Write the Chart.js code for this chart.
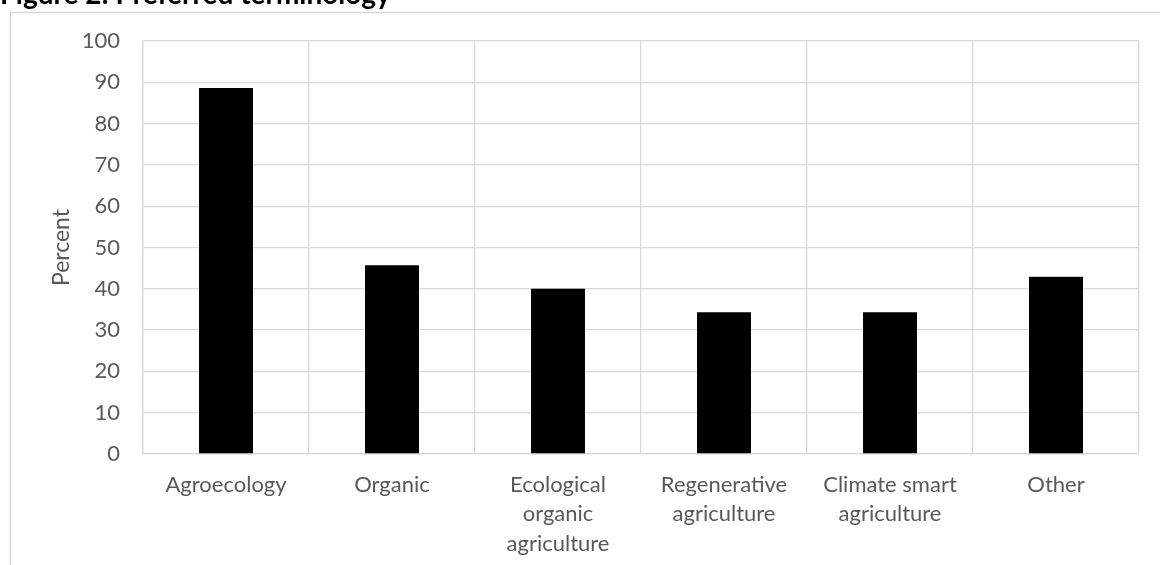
<!DOCTYPE html>
<html>
<head>
<meta charset="utf-8">
<script src="https://cdn.jsdelivr.net/npm/chart.js@4.4.1/dist/chart.umd.min.js"></script>
<style>
  html, body { margin: 0; padding: 0; background: #ffffff; overflow: hidden; }
  #wrap { position: absolute; left: 0; top: 0; width: 1160px; height: 565px; }
</style>
</head>
<body>
<div id="wrap"><canvas id="chart" width="1160" height="565"></canvas></div>
<script>
// Survey answers: share of respondents preferring each term
const categories = [
  ["Agroecology"],
  ["Organic"],
  ["Ecological", "organic", "agriculture"],
  ["Regenerative", "agriculture"],
  ["Climate smart", "agriculture"],
  ["Other"]
];
const percentValues = [88.6, 45.7, 40.0, 34.3, 34.3, 42.9];
const yTickRange = [0, 100];
const yTickStep = 10;
const figureTitle = "Figure 2: Preferred terminology";
const yAxisTitle = "Percent";

const FONT = "Lato, 'Open Sans', 'Liberation Sans', sans-serif";
const GRID = "#d9d9d9";
const TEXT = "#595959";

// Outer frame and the figure caption above it
const framePlugin = {
  id: "frame",
  beforeDraw(chart) {
    const ctx = chart.ctx;
    ctx.save();
    ctx.fillStyle = "#ffffff";
    ctx.fillRect(0, 0, chart.width, chart.height);
    ctx.strokeStyle = GRID;
    ctx.lineWidth = 1.3;
    ctx.beginPath();
    ctx.moveTo(10, 12.5);
    ctx.lineTo(chart.width, 12.5);
    ctx.moveTo(10.5, 12);
    ctx.lineTo(10.5, chart.height);
    ctx.stroke();
    ctx.fillStyle = "#000000";
    ctx.font = "bold 28px " + FONT;
    ctx.textBaseline = "alphabetic";
    ctx.textAlign = "left";
    ctx.fillText(figureTitle, 0, 4);
    ctx.restore();
  }
};

new Chart(document.getElementById("chart"), {
  type: "bar",
  data: {
    labels: categories,
    datasets: [{
      data: percentValues,
      backgroundColor: "#000000",
      borderWidth: 0,
      categoryPercentage: 1.0,
      barPercentage: 0.325
    }]
  },
  plugins: [framePlugin],
  options: {
    responsive: false,
    animation: false,
    devicePixelRatio: 1,
    layout: { padding: { top: 41, right: 21, left: 0, bottom: 0 } },
    plugins: {
      legend: { display: false },
      tooltip: { enabled: false },
      title: { display: false }
    },
    scales: {
      x: {
        grid: { color: GRID, lineWidth: 1.3, drawTicks: false, offset: true },
        border: { color: GRID, width: 1.3 },
        ticks: {
          color: TEXT,
          font: { family: FONT, size: 22, lineHeight: 1.34 },
          padding: 16,
          maxRotation: 0,
          minRotation: 0,
          autoSkip: false
        },
        afterFit(scale) { scale.height = 111; }
      },
      y: {
        min: yTickRange[0],
        max: yTickRange[1],
        grid: { color: GRID, lineWidth: 1.3, drawTicks: false },
        border: { color: GRID, width: 1.3 },
        ticks: {
          stepSize: yTickStep,
          color: TEXT,
          font: { family: FONT, size: 22 },
          padding: 23
        },
        title: {
          display: true,
          text: yAxisTitle,
          color: TEXT,
          font: { family: FONT, size: 23, lineHeight: 1.2 },
          padding: { top: 48, bottom: 0 }
        },
        afterFit(scale) { scale.width = 143; }
      }
    }
  }
});
</script>
</body>
</html>
